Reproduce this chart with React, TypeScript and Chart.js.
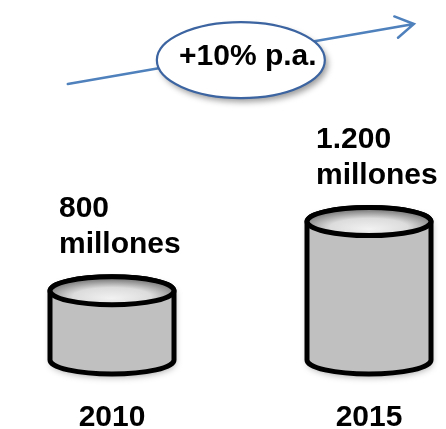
import React, { useEffect, useRef } from "react";
import { Chart, registerables } from "chart.js";

Chart.register(...registerables);

const years = ["2010", "2015"];
const values = [800, 1200];
const valueLabels = ["800", "1.200"];
const unitLabel = "millones";
const growthLabel = "+10% p.a.";

const FONT = '"Liberation Sans", Arial, sans-serif';

const cylinderPlugin = {
  id: "cylinders",
  afterDatasetsDraw(chart: any) {
    const ctx = chart.ctx as CanvasRenderingContext2D;
    const meta = chart.getDatasetMeta(0);
    meta.data.forEach((bar: any, i: number) => {
      const { x, y, base, width } = bar.getProps(["x", "y", "base", "width"], true);
      const rx = width / 2;
      const ry = 14;
      const l = x - rx;
      const r = x + rx;
      ctx.save();
      ctx.beginPath();
      ctx.moveTo(l, y);
      ctx.lineTo(l, base);
      ctx.ellipse(x, base, rx, ry, 0, Math.PI, 0, true);
      ctx.lineTo(r, y);
      ctx.ellipse(x, y, rx, ry, 0, 0, Math.PI, true);
      ctx.closePath();
      ctx.shadowColor = "rgba(0,0,0,0.35)";
      ctx.shadowBlur = 7;
      ctx.shadowOffsetX = 1;
      ctx.shadowOffsetY = 3;
      ctx.fillStyle = "#c0c0c0";
      ctx.fill();
      ctx.shadowColor = "transparent";
      ctx.lineWidth = 5;
      ctx.lineJoin = "round";
      ctx.strokeStyle = "#000";
      ctx.stroke();
      ctx.save();
      ctx.translate(x, y);
      ctx.scale(1, ry / rx);
      const g = ctx.createRadialGradient(0, rx * 0.55, 0, 0, rx * 0.3, rx * 1.05);
      g.addColorStop(0, "#f2f2f2");
      g.addColorStop(0.6, "#dcdcdc");
      g.addColorStop(1, "#8a8a8a");
      ctx.beginPath();
      ctx.arc(0, 0, rx, 0, Math.PI * 2);
      ctx.fillStyle = g;
      ctx.fill();
      ctx.restore();
      ctx.beginPath();
      ctx.ellipse(x, y, rx, ry, 0, 0, Math.PI * 2);
      ctx.lineWidth = 5;
      ctx.stroke();
      ctx.fillStyle = "#000";
      ctx.font = `bold 30px ${FONT}`;
      ctx.textAlign = "left";
      ctx.textBaseline = "alphabetic";
      const tx = l + 9;
      const b2 = y - ry - 24;
      ctx.fillText(unitLabel, tx, b2);
      ctx.fillText(valueLabels[i], tx, b2 - 36);
      ctx.restore();
    });
  },
};

const growthPlugin = {
  id: "growth",
  afterDraw(chart: any) {
    const ctx = chart.ctx as CanvasRenderingContext2D;
    const W = chart.width;
    const H = chart.height;
    const x0 = W * 0.152, y0 = H * 0.196;
    const x1 = W * 0.928, y1 = H * 0.056;
    ctx.save();
    ctx.strokeStyle = "#4f81bd";
    ctx.lineWidth = 2.5;
    ctx.lineCap = "round";
    ctx.beginPath();
    ctx.moveTo(x0, y0);
    ctx.lineTo(x1, y1);
    const ang = Math.atan2(y1 - y0, x1 - x0);
    const len = 21;
    const spread = (31 * Math.PI) / 180;
    ctx.moveTo(x1 - len * Math.cos(ang - spread), y1 - len * Math.sin(ang - spread));
    ctx.lineTo(x1, y1);
    ctx.lineTo(x1 - len * Math.cos(ang + spread), y1 - len * Math.sin(ang + spread));
    ctx.stroke();
    const cx = W * 0.54, cy = H * 0.14;
    ctx.beginPath();
    ctx.ellipse(cx, cy, 84, 38, 0, 0, Math.PI * 2);
    ctx.shadowColor = "rgba(0,0,0,0.4)";
    ctx.shadowBlur = 6;
    ctx.shadowOffsetX = 3;
    ctx.shadowOffsetY = 4;
    ctx.fillStyle = "#fff";
    ctx.fill();
    ctx.shadowColor = "transparent";
    ctx.strokeStyle = "#3b64a0";
    ctx.lineWidth = 2.2;
    ctx.stroke();
    ctx.fillStyle = "#000";
    ctx.font = `bold 30px ${FONT}`;
    ctx.textAlign = "center";
    ctx.textBaseline = "alphabetic";
    ctx.fillText(growthLabel, cx + 7, cy + 5);
    ctx.restore();
  },
};

export default function App() {
  const ref = useRef<HTMLCanvasElement>(null);
  useEffect(() => {
    if (!ref.current) return;
    const chart = new Chart(ref.current, {
      type: "bar",
      data: {
        labels: years,
        datasets: [
          {
            data: values,
            base: 400,
            backgroundColor: "rgba(0,0,0,0)",
            borderWidth: 0,
            barThickness: 124,
          },
        ],
      },
      options: {
        animation: false,
        responsive: false,
        layout: { padding: { left: 112, right: 77, top: 0, bottom: 0 } },
        plugins: { legend: { display: false }, tooltip: { enabled: false } },
        scales: {
          x: {
            offset: false,
            grid: { display: false },
            border: { display: false },
            afterFit: (scale: any) => {
              scale.height = 69;
            },
            ticks: {
              color: "#000",
              padding: 38,
              maxRotation: 0,
              minRotation: 0,
              autoSkip: false,
              font: { family: FONT, size: 30, weight: "bold", lineHeight: 0.8 },
            },
          },
          y: { display: false, min: 400, max: 2480 },
        },
      },
      plugins: [cylinderPlugin, growthPlugin],
    } as any);
    return () => chart.destroy();
  }, []);
  return (
    <div style={{ position: "fixed", left: 0, top: 0, width: 446, height: 429, background: "#fff" }}>
      <canvas ref={ref} width={446} height={429} style={{ display: "block" }} />
    </div>
  );
}
